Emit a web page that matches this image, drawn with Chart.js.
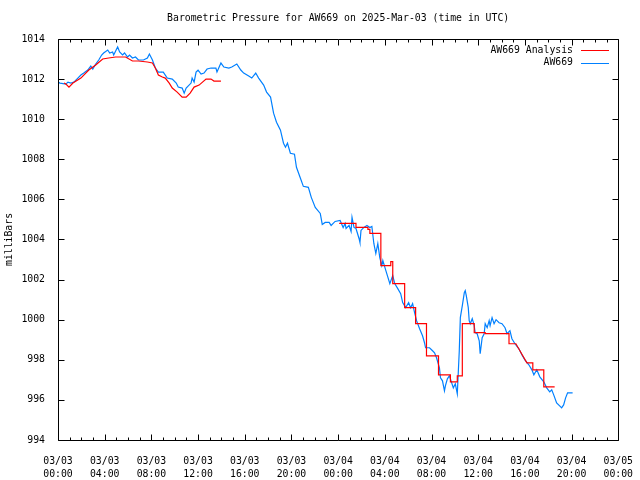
<!DOCTYPE html>
<html>
<head>
<meta charset="utf-8">
<title>Barometric Pressure for AW669</title>
<script src="https://cdn.jsdelivr.net/npm/chart.js@4.4.1/dist/chart.umd.min.js"></script>
<style>
  html, body { margin: 0; padding: 0; background: #fff; }
</style>
</head>
<body>
<canvas id="chart" width="640" height="480"></canvas>
<script>
// Hours since 03/03 00:00 UTC, pressure in mb
const observed = [
  [0.00, 1011.85], [0.17, 1011.8], [0.68, 1011.75], [0.85, 1011.85], [1.11, 1011.8], [1.36, 1011.85],
  [1.70, 1012.05], [1.96, 1012.2], [2.21, 1012.3], [2.55, 1012.45], [2.81, 1012.65], [2.98, 1012.5],
  [3.23, 1012.75], [3.49, 1012.95], [3.74, 1013.2], [3.91, 1013.3], [4.26, 1013.45], [4.43, 1013.3],
  [4.68, 1013.35], [4.77, 1013.2], [5.11, 1013.6], [5.28, 1013.35], [5.53, 1013.2], [5.70, 1013.3],
  [5.96, 1013.1], [6.13, 1013.2], [6.38, 1013.05], [6.64, 1013.1], [6.89, 1012.95], [7.32, 1012.95],
  [7.66, 1013.05], [7.83, 1013.25], [8.09, 1012.95], [8.34, 1012.55], [8.60, 1012.35], [9.02, 1012.35],
  [9.36, 1012.05], [9.79, 1012.0], [10.13, 1011.8], [10.30, 1011.6], [10.64, 1011.55], [10.81, 1011.3],
  [10.98, 1011.55], [11.40, 1011.8], [11.49, 1012.05], [11.66, 1011.85], [11.83, 1012.35], [12.00, 1012.45],
  [12.26, 1012.25], [12.51, 1012.3], [12.77, 1012.5], [13.11, 1012.55], [13.53, 1012.55], [13.62, 1012.35],
  [13.96, 1012.8], [14.21, 1012.6], [14.64, 1012.55], [14.89, 1012.6], [15.32, 1012.75], [15.66, 1012.45],
  [15.91, 1012.3], [16.34, 1012.15], [16.60, 1012.05], [16.94, 1012.3], [17.19, 1012.05], [17.62, 1011.7],
  [17.87, 1011.35], [18.21, 1011.1], [18.47, 1010.3], [18.72, 1009.85], [19.06, 1009.45], [19.32, 1008.8],
  [19.49, 1008.6], [19.66, 1008.8], [19.91, 1008.3], [20.26, 1008.25], [20.43, 1007.6], [20.77, 1007.05],
  [21.02, 1006.65], [21.45, 1006.6], [21.70, 1006.1], [22.04, 1005.6], [22.47, 1005.3], [22.64, 1004.75],
  [22.89, 1004.85], [23.23, 1004.85], [23.40, 1004.7], [23.74, 1004.9], [24.17, 1004.95], [24.43, 1004.6],
  [24.60, 1004.8], [24.68, 1004.55], [24.94, 1004.7], [25.11, 1004.4], [25.19, 1005.1], [25.36, 1004.6],
  [25.53, 1004.55], [25.79, 1004.05], [25.87, 1003.85], [25.96, 1004.45], [26.21, 1004.6], [26.47, 1004.7],
  [26.72, 1004.6], [26.89, 1004.65], [27.06, 1003.8], [27.23, 1003.3], [27.40, 1003.8], [27.57, 1003.1],
  [27.74, 1002.7], [27.83, 1002.95], [28.09, 1002.45], [28.43, 1001.8], [28.68, 1002.2], [28.85, 1001.8],
  [29.11, 1001.55], [29.36, 1001.3], [29.53, 1000.85], [29.79, 1000.6], [30.04, 1000.85], [30.21, 1000.6],
  [30.38, 1000.8], [30.55, 1000.35], [30.72, 999.95], [30.98, 999.55], [31.23, 999.2], [31.40, 998.85],
  [31.49, 998.6], [31.83, 998.6], [32.09, 998.45], [32.26, 998.35], [32.43, 998.1], [32.68, 997.6],
  [32.77, 997.1], [32.94, 996.95], [33.11, 996.45], [33.19, 996.7], [33.36, 997.05], [33.53, 997.2],
  [33.62, 997.05], [33.87, 996.6], [34.04, 996.8], [34.21, 996.3], [34.38, 998.45], [34.47, 1000.1],
  [34.64, 1000.7], [34.81, 1001.35], [34.89, 1001.45], [34.98, 1001.2], [35.15, 1000.6], [35.23, 999.95],
  [35.32, 999.8], [35.49, 1000.05], [35.66, 999.7], [35.74, 999.35], [35.91, 999.3], [36.09, 998.95],
  [36.17, 998.3], [36.34, 999.1], [36.51, 999.3], [36.60, 999.8], [36.77, 999.6], [36.94, 999.95],
  [37.02, 999.7], [37.19, 1000.1], [37.36, 999.8], [37.53, 1000.0], [37.79, 999.85], [38.04, 999.8],
  [38.30, 999.6], [38.47, 999.3], [38.72, 999.45], [38.89, 999.05], [39.15, 998.8], [39.49, 998.55],
  [39.74, 998.25], [40.00, 998.0], [40.34, 997.75], [40.60, 997.5], [40.77, 997.25], [41.02, 997.5],
  [41.28, 997.15], [41.62, 996.9], [41.87, 996.6], [42.13, 996.4], [42.30, 996.5], [42.47, 996.25],
  [42.72, 995.85], [42.98, 995.7], [43.15, 995.6], [43.32, 995.75], [43.49, 996.1], [43.66, 996.35],
  [44.09, 996.35]
];

// analysis: smooth first part, gap, then stepped levels (corners listed twice)
const analysis = [
  [0.51, 1011.8], [0.68, 1011.75], [0.94, 1011.6], [1.28, 1011.8], [1.96, 1012.05], [2.64, 1012.45],
  [3.23, 1012.7], [3.83, 1013.0], [4.34, 1013.05], [4.94, 1013.1], [5.79, 1013.1], [6.38, 1012.9],
  [6.89, 1012.9], [7.66, 1012.85], [8.09, 1012.8], [8.34, 1012.55], [8.60, 1012.2], [8.94, 1012.1],
  [9.19, 1012.05], [9.53, 1011.8], [9.79, 1011.55], [10.21, 1011.35], [10.64, 1011.1], [10.98, 1011.1],
  [11.32, 1011.3], [11.66, 1011.6], [12.09, 1011.7], [12.68, 1012.0], [13.11, 1012.0], [13.36, 1011.9],
  [13.96, 1011.9],
  [19.00, null],
  [24.09, 1004.8], [25.53, 1004.8], [25.53, 1004.6], [26.55, 1004.6], [26.55, 1004.5], [26.72, 1004.5],
  [26.72, 1004.3], [27.66, 1004.3], [27.66, 1002.7], [28.51, 1002.7], [28.51, 1002.9], [28.68, 1002.9],
  [28.68, 1001.8], [29.70, 1001.8], [29.70, 1000.6], [30.64, 1000.6], [30.64, 999.8], [31.57, 999.8],
  [31.57, 998.2], [32.60, 998.2], [32.60, 997.25], [33.62, 997.25], [33.62, 996.9], [34.21, 996.9],
  [34.21, 997.2], [34.64, 997.2], [34.64, 999.8], [35.66, 999.8], [35.66, 999.35], [36.60, 999.35],
  [36.60, 999.3], [38.64, 999.3], [38.64, 998.8], [39.23, 998.8], [40.17, 997.85], [40.68, 997.85],
  [40.68, 997.5], [41.62, 997.5], [41.62, 996.65], [42.55, 996.65]
];

const seriesLabels = ["AW669 Analysis", "AW669"];
const seriesColors = ["#ff0000", "#0080ff"];

const xTickHours = [0, 4, 8, 12, 16, 20, 24, 28, 32, 36, 40, 44, 48];
const xTickLabels = [
  ["03/03", "00:00"], ["03/03", "04:00"], ["03/03", "08:00"], ["03/03", "12:00"],
  ["03/03", "16:00"], ["03/03", "20:00"], ["03/04", "00:00"], ["03/04", "04:00"],
  ["03/04", "08:00"], ["03/04", "12:00"], ["03/04", "16:00"], ["03/04", "20:00"],
  ["03/05", "00:00"]
];
const yMin = 994, yMax = 1014, yStep = 2;

const FONT_FAMILY = "'DejaVu Sans Mono', 'Liberation Mono', monospace";
const FONT_SIZE = 9.8;

// gnuplot style frame, inward ticks and the key
const gnuplotFrame = {
  id: 'gnuplotFrame',
  afterDraw(chart) {
    const ctx = chart.ctx;
    const a = chart.chartArea;
    const xs = chart.scales.x, ys = chart.scales.y;
    const L = Math.round(a.left) + 0.5, R = Math.round(a.right) + 0.5;
    const T = Math.round(a.top) + 0.5, B = Math.round(a.bottom) + 0.5;
    ctx.save();
    ctx.strokeStyle = '#000';
    ctx.lineWidth = 1;
    ctx.beginPath();
    ctx.rect(L, T, R - L, B - T);
    // x ticks, major every 4h, minor every hour
    for (let h = xs.min; h <= xs.max; h++) {
      const px = Math.round(xs.getPixelForValue(h)) + 0.5;
      const len = xTickHours.includes(h) ? 6 : 3;
      ctx.moveTo(px, B); ctx.lineTo(px, B - len);
      ctx.moveTo(px, T); ctx.lineTo(px, T + len);
    }
    for (let v = yMin; v <= yMax; v += yStep) {
      const py = Math.round(ys.getPixelForValue(v)) + 0.5;
      ctx.moveTo(L, py); ctx.lineTo(L + 6, py);
      ctx.moveTo(R, py); ctx.lineTo(R - 6, py);
    }
    ctx.stroke();

    // key
    ctx.font = FONT_SIZE + 'px ' + FONT_FAMILY;
    ctx.textAlign = 'right';
    ctx.textBaseline = 'middle';
    chart.data.datasets.forEach((ds, i) => {
      const y = 50 + i * 12.5;
      ctx.fillStyle = '#000';
      ctx.fillText(ds.label, 573, y);
      ctx.strokeStyle = ds.borderColor;
      ctx.beginPath();
      ctx.moveTo(581, Math.round(y) + 0.5);
      ctx.lineTo(609, Math.round(y) + 0.5);
      ctx.stroke();
    });
    ctx.restore();
  }
};

const toPoints = rows => rows.map(r => ({ x: r[0], y: r[1] }));

const chart = new Chart(document.getElementById('chart'), {
  type: 'line',
  data: {
    datasets: [
      {
        label: seriesLabels[0],
        data: toPoints(analysis),
        borderColor: seriesColors[0],
        borderWidth: 1.2,
        pointRadius: 0,
        tension: 0,
        spanGaps: false
      },
      {
        label: seriesLabels[1],
        data: toPoints(observed),
        borderColor: seriesColors[1],
        borderWidth: 1.2,
        pointRadius: 0,
        tension: 0
      }
    ]
  },
  options: {
    responsive: false,
    animation: false,
    devicePixelRatio: 1,
    layout: { padding: { top: 0, right: 18, bottom: 0, left: 0 } },
    plugins: {
      legend: { display: false },
      tooltip: { enabled: false },
      title: {
        display: true,
        fullSize: false,
        text: 'Barometric Pressure for AW669 on 2025-Mar-03 (time in UTC)',
        color: '#000',
        font: { family: FONT_FAMILY, size: FONT_SIZE, weight: 'normal', lineHeight: 1.2 },
        padding: { top: 13, bottom: 14.2 }
      }
    },
    scales: {
      x: {
        type: 'linear',
        min: 0,
        max: 48,
        afterBuildTicks: s => { s.ticks = xTickHours.map(v => ({ value: v })); },
        afterFit: s => { s.height = 40; },
        grid: { display: false },
        border: { display: false },
        ticks: {
          autoSkip: false,
          maxRotation: 0,
          padding: 7,
          color: '#000',
          font: { family: FONT_FAMILY, size: FONT_SIZE, lineHeight: 1.33 },
          callback: v => xTickLabels[xTickHours.indexOf(v)]
        }
      },
      y: {
        min: yMin,
        max: yMax,
        afterFit: s => { s.width = 58; },
        grid: { display: false },
        border: { display: false },
        title: {
          display: true,
          text: 'milliBars',
          color: '#000',
          font: { family: FONT_FAMILY, size: FONT_SIZE },
          padding: { top: 4, bottom: 0 }
        },
        ticks: {
          stepSize: yStep,
          padding: 5,
          color: '#000',
          font: { family: FONT_FAMILY, size: FONT_SIZE },
          callback: v => String(v)
        }
      }
    }
  },
  plugins: [gnuplotFrame]
});
</script>
</body>
</html>
